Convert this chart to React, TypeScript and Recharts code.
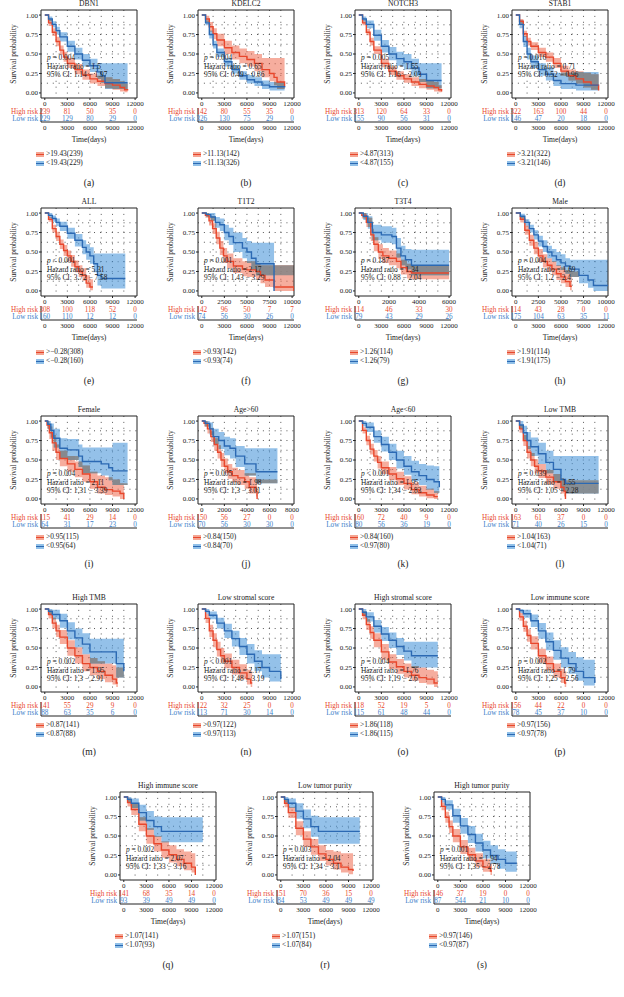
import React from "react";
import {
  Area,
  CartesianGrid,
  ComposedChart,
  LabelList,
  Line,
  ReferenceArea,
  XAxis,
  YAxis,
} from "recharts";

// [time(days), survival, lower CI, upper CI]
type Pt = [number, number, number, number];

const ticks12k = [0, 3000, 6000, 9000, 12000];
const ticks10k = [0, 2500, 5000, 7500, 10000];
const ticks8k = [0, 2000, 4000, 6000, 8000];
const ticks6k = [0, 2000, 4000, 6000];
const survTicks = [0, 0.25, 0.5, 0.75, 1];

// (a) DBN1
const dbn1High: Pt[] = [[0,1,1,1],[500,0.9,0.86,0.94],[1000,0.78,0.73,0.83],[1500,0.66,0.6,0.72],[2000,0.55,0.49,0.61],[2500,0.46,0.4,0.53],[3000,0.38,0.32,0.45],[4000,0.3,0.24,0.37],[5000,0.23,0.17,0.3],[6000,0.18,0.12,0.25],[7000,0.15,0.09,0.22],[8000,0.12,0.06,0.2],[9000,0.1,0.04,0.18],[10000,0.07,0.02,0.15],[10600,0.04,0.01,0.12],[11000,0.03,0,0.1]];
const dbn1Low: Pt[] = [[0,1,1,1],[500,0.95,0.92,0.98],[1000,0.88,0.84,0.92],[1500,0.8,0.75,0.85],[2000,0.72,0.66,0.78],[3000,0.6,0.53,0.67],[4000,0.5,0.43,0.58],[5000,0.42,0.34,0.5],[6000,0.35,0.27,0.44],[7000,0.27,0.18,0.38],[7500,0.22,0.13,0.38],[8000,0.13,0.05,0.38],[11000,0.13,0.05,0.38]];
const dbn1AtRisk = [[239, 81, 50, 35, 0], [229, 129, 80, 29, 0]];

// (b) KDELC2
const kdelc2High: Pt[] = [[0,1,1,1],[500,0.95,0.91,0.99],[1000,0.85,0.79,0.91],[1500,0.76,0.69,0.83],[2000,0.68,0.6,0.76],[3000,0.58,0.5,0.67],[4000,0.52,0.43,0.61],[5000,0.47,0.38,0.57],[6000,0.43,0.34,0.54],[7000,0.38,0.28,0.5],[8000,0.3,0.2,0.45],[9000,0.25,0.15,0.45],[9600,0.2,0.1,0.45],[10000,0.14,0.05,0.45],[11000,0.08,0.02,0.45]];
const kdelc2Low: Pt[] = [[0,1,1,1],[500,0.9,0.87,0.93],[1000,0.75,0.7,0.8],[1500,0.62,0.57,0.67],[2000,0.52,0.46,0.57],[3000,0.4,0.34,0.45],[4000,0.3,0.25,0.36],[5000,0.22,0.17,0.28],[6000,0.17,0.12,0.23],[7000,0.14,0.09,0.2],[8000,0.1,0.05,0.16],[9000,0.08,0.03,0.14],[11000,0.07,0.02,0.14]];
const kdelc2AtRisk = [[142, 80, 55, 35, 0], [326, 130, 75, 29, 0]];

// (c) NOTCH3
const notch3High: Pt[] = [[0,1,1,1],[500,0.9,0.87,0.93],[1000,0.78,0.74,0.82],[1500,0.66,0.61,0.71],[2000,0.55,0.5,0.6],[3000,0.38,0.33,0.44],[4000,0.28,0.23,0.34],[5000,0.22,0.17,0.28],[6000,0.18,0.13,0.24],[7000,0.14,0.09,0.2],[8000,0.11,0.06,0.18],[9000,0.09,0.04,0.16],[10000,0.07,0.02,0.14],[10600,0.04,0.01,0.1],[11000,0.02,0,0.08]];
const notch3Low: Pt[] = [[0,1,1,1],[500,0.95,0.92,0.98],[1000,0.88,0.83,0.93],[2000,0.74,0.67,0.81],[3000,0.6,0.52,0.68],[4000,0.5,0.42,0.59],[5000,0.44,0.35,0.53],[6000,0.4,0.3,0.5],[7000,0.32,0.22,0.44],[8000,0.24,0.14,0.38],[9000,0.16,0.06,0.38],[11000,0.16,0.06,0.38]];
const notch3AtRisk = [[313, 120, 64, 33, 0], [155, 90, 56, 31, 0]];

// (d) STAB1
const stab1High: Pt[] = [[0,1,1,1],[500,0.92,0.89,0.95],[1000,0.76,0.72,0.8],[1500,0.66,0.61,0.71],[2000,0.6,0.55,0.65],[3000,0.52,0.46,0.58],[4000,0.46,0.4,0.52],[5000,0.38,0.32,0.45],[6000,0.28,0.22,0.35],[7000,0.22,0.16,0.3],[8000,0.18,0.12,0.28],[9000,0.14,0.07,0.26],[10000,0.1,0.04,0.24],[11000,0.03,0,0.2]];
const stab1Low: Pt[] = [[0,1,1,1],[500,0.88,0.83,0.93],[1000,0.66,0.59,0.73],[1500,0.5,0.43,0.58],[2000,0.4,0.32,0.48],[3000,0.3,0.22,0.38],[4000,0.24,0.16,0.33],[5000,0.16,0.09,0.26],[6000,0.12,0.05,0.26],[8000,0.1,0.03,0.27],[11000,0.1,0.03,0.27]];
const stab1AtRisk = [[322, 163, 100, 44, 0], [146, 47, 20, 18, 0]];

// (e) ALL
const allHigh: Pt[] = [[0,1,1,1],[500,0.92,0.89,0.95],[1000,0.8,0.75,0.85],[1500,0.7,0.64,0.76],[2000,0.6,0.54,0.66],[2500,0.52,0.45,0.59],[3000,0.45,0.38,0.52],[3500,0.38,0.31,0.46],[4000,0.31,0.24,0.39],[4500,0.25,0.18,0.33],[5000,0.2,0.13,0.29],[5500,0.1,0.04,0.2],[6000,0.05,0.01,0.15],[6400,0.05,0.01,0.15]];
const allLow: Pt[] = [[0,1,1,1],[500,0.97,0.94,1],[1000,0.93,0.89,0.97],[1500,0.88,0.83,0.93],[2000,0.83,0.77,0.89],[3000,0.74,0.67,0.81],[4000,0.65,0.57,0.73],[5000,0.56,0.47,0.65],[5500,0.5,0.4,0.6],[6000,0.45,0.35,0.56],[6500,0.35,0.24,0.48],[7000,0.2,0.07,0.48],[7500,0.16,0.03,0.48],[10700,0.16,0.03,0.48]];
const allAtRisk = [[308, 100, 118, 52, 0], [160, 110, 12, 12, 0]];

// (f) T1T2
const t1t2High: Pt[] = [[0,1,1,1],[400,0.97,0.94,1],[800,0.9,0.84,0.96],[1200,0.8,0.73,0.87],[1600,0.68,0.6,0.76],[2000,0.55,0.46,0.64],[2400,0.45,0.36,0.55],[2800,0.38,0.29,0.48],[3500,0.32,0.23,0.42],[4500,0.28,0.19,0.38],[5000,0.27,0.18,0.38],[6000,0.25,0.15,0.36],[6500,0.2,0.1,0.33],[7000,0.14,0.05,0.33],[8000,0.05,0,0.33],[10200,0,0,0.33]];
const t1t2Low: Pt[] = [[0,1,1,1],[500,0.98,0.95,1],[1000,0.95,0.9,1],[1500,0.88,0.81,0.95],[2000,0.85,0.77,0.93],[2500,0.75,0.65,0.85],[3000,0.7,0.59,0.81],[3500,0.62,0.5,0.75],[4500,0.55,0.42,0.68],[5000,0.5,0.36,0.64],[5500,0.42,0.27,0.62],[6000,0.35,0.2,0.62],[8000,0,0.2,0.62]];
const t1t2AtRisk = [[142, 96, 50, 7, 7], [74, 56, 30, 26, 0]];

// (g) T3T4
const t3t4High: Pt[] = [[0,1,1,1],[200,0.97,0.93,1],[500,0.88,0.82,0.94],[800,0.72,0.64,0.8],[1000,0.6,0.51,0.69],[1300,0.5,0.41,0.6],[1600,0.45,0.36,0.55],[2000,0.42,0.33,0.52],[2500,0.38,0.29,0.48],[2800,0.3,0.21,0.4],[3200,0.25,0.16,0.35],[3500,0.23,0.15,0.33],[6000,0.23,0.15,0.33]];
const t3t4Low: Pt[] = [[0,1,1,1],[300,0.96,0.91,1],[600,0.88,0.8,0.96],[900,0.75,0.65,0.85],[1500,0.72,0.62,0.83],[2200,0.7,0.6,0.81],[2500,0.55,0.43,0.68],[2800,0.45,0.33,0.58],[3100,0.4,0.28,0.54],[3500,0.33,0.2,0.53],[6000,0.33,0.2,0.53]];
const t3t4AtRisk = [[114, 46, 33, 30], [79, 43, 29, 26]];

// (h) Male
const maleHigh: Pt[] = [[0,1,1,1],[500,0.92,0.88,0.96],[1000,0.78,0.72,0.84],[1500,0.65,0.58,0.72],[2000,0.55,0.47,0.63],[2500,0.45,0.37,0.54],[3000,0.38,0.3,0.47],[3500,0.33,0.25,0.42],[4000,0.28,0.2,0.38],[4500,0.22,0.14,0.33],[5000,0.18,0.1,0.3],[5500,0.12,0.05,0.27],[6000,0.06,0.01,0.25],[6200,0.06,0.01,0.25]];
const maleLow: Pt[] = [[0,1,1,1],[500,0.96,0.93,0.99],[1000,0.88,0.84,0.92],[1500,0.8,0.75,0.85],[2000,0.72,0.66,0.78],[2500,0.64,0.57,0.71],[3000,0.57,0.5,0.65],[3500,0.5,0.42,0.58],[4000,0.45,0.37,0.54],[4500,0.4,0.32,0.5],[5000,0.36,0.27,0.47],[5500,0.32,0.22,0.42],[6000,0.28,0.18,0.4],[7000,0.2,0.1,0.4],[8000,0.14,0.04,0.4],[8600,0.07,0,0.4],[10300,0.07,0,0.4]];
const maleAtRisk = [[114, 43, 28, 0, 0], [175, 104, 63, 35, 11]];

// (i) Female
const femaleHigh: Pt[] = [[0,1,1,1],[300,0.95,0.9,1],[600,0.85,0.77,0.93],[1000,0.72,0.62,0.82],[1500,0.6,0.5,0.7],[2000,0.52,0.42,0.62],[3000,0.45,0.35,0.55],[4000,0.38,0.28,0.48],[5000,0.32,0.22,0.43],[6000,0.22,0.13,0.35],[7000,0.15,0.07,0.3],[8000,0.12,0.05,0.28],[9000,0.1,0.03,0.25],[10000,0.07,0,0.2],[10500,0,0,0.2]];
const femaleLow: Pt[] = [[0,1,1,1],[400,0.96,0.9,1],[800,0.88,0.79,0.97],[1200,0.78,0.66,0.9],[2000,0.65,0.52,0.78],[3000,0.63,0.5,0.77],[4500,0.55,0.41,0.7],[5000,0.48,0.33,0.66],[7500,0.45,0.3,0.66],[8500,0.4,0.24,0.66],[9000,0.36,0.18,0.72],[11000,0.36,0.18,0.72]];
const femaleAtRisk = [[115, 41, 29, 14, 0], [64, 31, 17, 23, 0]];

// (j) Age>60
const ageOldHigh: Pt[] = [[0,1,1,1],[200,0.97,0.93,1],[500,0.9,0.84,0.96],[800,0.8,0.73,0.87],[1100,0.7,0.62,0.78],[1400,0.6,0.52,0.69],[1700,0.5,0.41,0.59],[2000,0.42,0.33,0.52],[2300,0.35,0.26,0.45],[2700,0.3,0.21,0.4],[3200,0.27,0.18,0.37],[3800,0.22,0.13,0.33],[4200,0.15,0.07,0.28],[4800,0.1,0.03,0.25],[4900,0,0,0.25]];
const ageOldLow: Pt[] = [[0,1,1,1],[300,0.97,0.93,1],[700,0.9,0.82,0.98],[1000,0.8,0.7,0.9],[1500,0.75,0.64,0.86],[2000,0.68,0.56,0.8],[2500,0.65,0.52,0.78],[3000,0.55,0.41,0.68],[3800,0.45,0.3,0.65],[4800,0.35,0.2,0.65],[6700,0.35,0.2,0.65]];
const ageOldAtRisk = [[150, 56, 27, 0, 0], [70, 56, 30, 30, 0]];

// (k) Age<60
const ageYoungHigh: Pt[] = [[0,1,1,1],[500,0.88,0.84,0.92],[1000,0.75,0.69,0.81],[1500,0.64,0.57,0.71],[2000,0.55,0.48,0.63],[2500,0.47,0.39,0.55],[3000,0.4,0.32,0.48],[4000,0.32,0.24,0.41],[5000,0.26,0.18,0.35],[6000,0.2,0.12,0.29],[7000,0.12,0.06,0.21],[8000,0.08,0.03,0.17],[9000,0.05,0.01,0.13],[10000,0.03,0,0.1],[10500,0.03,0,0.1]];
const ageYoungLow: Pt[] = [[0,1,1,1],[500,0.97,0.93,1],[1000,0.92,0.86,0.98],[2000,0.8,0.72,0.88],[3000,0.7,0.61,0.8],[4000,0.6,0.5,0.71],[5000,0.5,0.39,0.62],[6000,0.42,0.31,0.55],[7000,0.35,0.23,0.49],[8000,0.3,0.18,0.45],[9000,0.25,0.12,0.43],[10000,0.22,0.08,0.42],[10700,0.15,0.04,0.42]];
const ageYoungAtRisk = [[160, 72, 40, 9, 0], [80, 56, 36, 19, 0]];

// (l) Low TMB
const lowTmbHigh: Pt[] = [[0,1,1,1],[500,0.9,0.85,0.95],[1000,0.75,0.68,0.82],[1500,0.6,0.52,0.68],[2000,0.5,0.42,0.59],[2500,0.42,0.33,0.51],[3000,0.36,0.27,0.45],[4000,0.28,0.19,0.37],[5000,0.22,0.13,0.32],[6000,0.15,0.07,0.27],[6400,0.1,0.03,0.24],[6600,0,0,0.24]];
const lowTmbLow: Pt[] = [[0,1,1,1],[500,0.95,0.9,1],[1000,0.85,0.76,0.94],[1500,0.75,0.64,0.86],[2000,0.67,0.55,0.79],[3000,0.58,0.45,0.72],[4000,0.47,0.33,0.62],[5000,0.38,0.23,0.55],[6000,0.25,0.1,0.55],[6600,0.2,0.07,0.55],[11000,0.2,0.07,0.55]];
const lowTmbAtRisk = [[163, 61, 37, 0, 0], [71, 40, 26, 15, 0]];

// (m) High TMB
const highTmbHigh: Pt[] = [[0,1,1,1],[500,0.93,0.88,0.98],[1000,0.82,0.75,0.89],[1500,0.72,0.64,0.8],[2000,0.64,0.55,0.73],[3000,0.5,0.4,0.6],[4000,0.4,0.3,0.51],[5000,0.3,0.2,0.42],[6000,0.25,0.15,0.37],[7000,0.2,0.1,0.33],[8000,0.15,0.06,0.3],[9000,0.1,0.03,0.28],[9500,0.05,0,0.25],[9700,0.05,0,0.25]];
const highTmbLow: Pt[] = [[0,1,1,1],[500,0.97,0.93,1],[1000,0.93,0.87,0.99],[2000,0.85,0.76,0.94],[3000,0.72,0.61,0.83],[4000,0.63,0.51,0.75],[5000,0.55,0.42,0.69],[6000,0.45,0.3,0.62],[9000,0.45,0.3,0.62],[9500,0.3,0.12,0.62],[10500,0.2,0.05,0.62]];
const highTmbAtRisk = [[141, 55, 29, 9, 0], [88, 63, 35, 6, 0]];

// (n) Low stromal score
const lowStromalHigh: Pt[] = [[0,1,1,1],[500,0.88,0.82,0.94],[1000,0.72,0.64,0.8],[1500,0.6,0.51,0.69],[2000,0.48,0.39,0.58],[2500,0.4,0.31,0.5],[3000,0.33,0.24,0.43],[4000,0.25,0.16,0.35],[5000,0.18,0.1,0.29],[6000,0.1,0.03,0.22],[6500,0.05,0,0.2],[6700,0.05,0,0.2]];
const lowStromalLow: Pt[] = [[0,1,1,1],[500,0.97,0.94,1],[1000,0.92,0.87,0.97],[2000,0.82,0.75,0.89],[3000,0.72,0.63,0.81],[4000,0.62,0.52,0.72],[5000,0.52,0.41,0.63],[6000,0.42,0.3,0.55],[7000,0.33,0.2,0.47],[8000,0.25,0.12,0.42],[9000,0.2,0.07,0.42],[10500,0.1,0.01,0.42]];
const lowStromalAtRisk = [[122, 32, 25, 0, 0], [113, 71, 30, 14, 0]];

// (o) High stromal score
const highStromalHigh: Pt[] = [[0,1,1,1],[500,0.92,0.87,0.97],[1000,0.8,0.73,0.87],[1500,0.7,0.62,0.78],[2000,0.6,0.51,0.69],[3000,0.45,0.35,0.55],[4000,0.32,0.23,0.42],[5000,0.26,0.17,0.36],[6000,0.2,0.12,0.3],[7000,0.15,0.08,0.27],[8000,0.12,0.05,0.25],[9000,0.1,0.03,0.22],[10000,0.05,0,0.2],[10500,0.05,0,0.2]];
const highStromalLow: Pt[] = [[0,1,1,1],[500,0.96,0.92,1],[1000,0.9,0.84,0.96],[2000,0.78,0.7,0.86],[3000,0.68,0.59,0.77],[4000,0.6,0.5,0.7],[5000,0.52,0.41,0.63],[6000,0.46,0.34,0.58],[7000,0.4,0.25,0.58],[10500,0.4,0.25,0.58]];
const highStromalAtRisk = [[118, 52, 19, 5, 0], [115, 61, 48, 44, 0]];

// (p) Low immune score
const lowImmuneHigh: Pt[] = [[0,1,1,1],[500,0.9,0.85,0.95],[1000,0.78,0.71,0.85],[1500,0.66,0.58,0.74],[2000,0.56,0.48,0.65],[3000,0.4,0.31,0.49],[4000,0.3,0.21,0.39],[5000,0.2,0.12,0.3],[6000,0.12,0.05,0.23],[6500,0.05,0,0.2],[6700,0.05,0,0.2]];
const lowImmuneLow: Pt[] = [[0,1,1,1],[500,0.98,0.95,1],[1000,0.94,0.89,0.99],[2000,0.85,0.77,0.93],[3000,0.72,0.62,0.82],[4000,0.58,0.47,0.7],[5000,0.47,0.35,0.6],[6000,0.37,0.25,0.51],[7000,0.3,0.17,0.45],[8000,0.2,0.08,0.38],[9000,0.12,0.02,0.35],[10500,0.05,0,0.35]];
const lowImmuneAtRisk = [[156, 44, 22, 0, 0], [78, 45, 37, 10, 0]];

// (q) High immune score
const highImmuneHigh: Pt[] = [[0,1,1,1],[500,0.93,0.88,0.98],[1000,0.84,0.77,0.91],[2000,0.65,0.56,0.74],[3000,0.5,0.4,0.6],[4000,0.4,0.3,0.5],[5000,0.32,0.22,0.43],[6000,0.26,0.16,0.38],[7000,0.2,0.11,0.33],[8000,0.15,0.06,0.3],[9000,0.1,0.03,0.28],[9500,0,0,0.28]];
const highImmuneLow: Pt[] = [[0,1,1,1],[500,0.97,0.93,1],[1000,0.92,0.86,0.98],[2000,0.8,0.7,0.9],[3000,0.7,0.58,0.82],[4000,0.62,0.49,0.75],[5000,0.56,0.42,0.74],[10500,0.56,0.42,0.74]];
const highImmuneAtRisk = [[141, 68, 35, 14, 0], [93, 39, 49, 49, 0]];

// (r) Low tumor purity
const lowPurityHigh: Pt[] = [[0,1,1,1],[500,0.92,0.87,0.97],[1000,0.8,0.73,0.87],[2000,0.6,0.51,0.69],[3000,0.46,0.36,0.56],[4000,0.36,0.26,0.46],[5000,0.27,0.18,0.38],[6000,0.2,0.12,0.32],[7000,0.15,0.07,0.3],[8000,0.1,0.03,0.28],[9000,0.07,0.01,0.28],[9600,0.05,0,0.28]];
const lowPurityLow: Pt[] = [[0,1,1,1],[500,0.97,0.93,1],[1000,0.92,0.86,0.98],[2000,0.82,0.72,0.92],[3000,0.72,0.6,0.84],[4000,0.62,0.49,0.76],[5000,0.56,0.4,0.74],[10500,0.56,0.4,0.74]];
const lowPurityAtRisk = [[151, 70, 36, 15, 0], [84, 53, 49, 49, 49]];

// (s) High tumor purity
const highPurityHigh: Pt[] = [[0,1,1,1],[500,0.88,0.83,0.93],[1000,0.74,0.67,0.81],[1500,0.62,0.54,0.7],[2000,0.5,0.42,0.59],[3000,0.36,0.27,0.45],[4000,0.26,0.18,0.35],[5000,0.18,0.1,0.28],[6000,0.1,0.04,0.2],[7000,0.05,0,0.15],[7200,0.05,0,0.15]];
const highPurityLow: Pt[] = [[0,1,1,1],[500,0.97,0.93,1],[1000,0.9,0.84,0.96],[2000,0.76,0.67,0.85],[3000,0.63,0.53,0.73],[4000,0.52,0.41,0.63],[5000,0.41,0.3,0.53],[6000,0.32,0.21,0.44],[7000,0.25,0.14,0.38],[8000,0.2,0.08,0.33],[9000,0.15,0.04,0.3],[10500,0.15,0.04,0.3]];
const highPurityAtRisk = [[146, 37, 19, 0, 0], [87, 544, 21, 10, 0]];

type PanelCfg = {
  tag: string;
  title: string;
  ticks: number[];
  high: Pt[];
  low: Pt[];
  atRisk: number[][];
  p: string;
  hr: string;
  ci: string;
  legend: [string, string];
};

const panels: PanelCfg[] = [
  { tag: "(a)", title: "DBN1", ticks: ticks12k, high: dbn1High, low: dbn1Low, atRisk: dbn1AtRisk, p: "= 0.004", hr: "1.5", ci: "1.14 − 1.97", legend: [">19.43(239)", "<19.43(229)"] },
  { tag: "(b)", title: "KDELC2", ticks: ticks12k, high: kdelc2High, low: kdelc2Low, atRisk: kdelc2AtRisk, p: "= 0.004", hr: "0.65", ci: "0.49 − 0.86", legend: [">11.13(142)", "<11.13(326)"] },
  { tag: "(c)", title: "NOTCH3", ticks: ticks12k, high: notch3High, low: notch3Low, atRisk: notch3AtRisk, p: "= 0.005", hr: "1.55", ci: "1.16 − 2.03", legend: [">4.87(313)", "<4.87(155)"] },
  { tag: "(d)", title: "STAB1", ticks: ticks12k, high: stab1High, low: stab1Low, atRisk: stab1AtRisk, p: "= 0.016", hr: "0.71", ci: "0.52 − 0.96", legend: [">3.21(322)", "<3.21(146)"] },
  { tag: "(e)", title: "ALL", ticks: ticks12k, high: allHigh, low: allLow, atRisk: allAtRisk, p: "< 0.001", hr: "5.31", ci: "3.72 − 7.58", legend: [">−0.28(308)", "<−0.28(160)"] },
  { tag: "(f)", title: "T1T2", ticks: ticks10k, high: t1t2High, low: t1t2Low, atRisk: t1t2AtRisk, p: "= 0.001", hr: "2.17", ci: "1.43 − 3.29", legend: [">0.93(142)", "<0.93(74)"] },
  { tag: "(g)", title: "T3T4", ticks: ticks6k, high: t3t4High, low: t3t4Low, atRisk: t3t4AtRisk, p: "= 0.187", hr: "1.34", ci: "0.88 − 2.04", legend: [">1.26(114)", "<1.26(79)"] },
  { tag: "(h)", title: "Male", ticks: ticks10k, high: maleHigh, low: maleLow, atRisk: maleAtRisk, p: "= 0.004", hr: "1.69", ci: "1.2 − 2.4", legend: [">1.91(114)", "<1.91(175)"] },
  { tag: "(i)", title: "Female", ticks: ticks12k, high: femaleHigh, low: femaleLow, atRisk: femaleAtRisk, p: "= 0.004", hr: "2.11", ci: "1.31 − 3.39", legend: [">0.95(115)", "<0.95(64)"] },
  { tag: "(j)", title: "Age>60", ticks: ticks8k, high: ageOldHigh, low: ageOldLow, atRisk: ageOldAtRisk, p: "= 0.005", hr: "1.98", ci: "1.3 − 3.01", legend: [">0.84(150)", "<0.84(70)"] },
  { tag: "(k)", title: "Age<60", ticks: ticks12k, high: ageYoungHigh, low: ageYoungLow, atRisk: ageYoungAtRisk, p: "< 0.001", hr: "1.95", ci: "1.34 − 2.83", legend: [">0.84(160)", "<0.97(80)"] },
  { tag: "(l)", title: "Low TMB", ticks: ticks12k, high: lowTmbHigh, low: lowTmbLow, atRisk: lowTmbAtRisk, p: "= 0.039", hr: "1.55", ci: "1.05 − 2.28", legend: [">1.04(163)", "<1.04(71)"] },
  { tag: "(m)", title: "High TMB", ticks: ticks12k, high: highTmbHigh, low: highTmbLow, atRisk: highTmbAtRisk, p: "= 0.002", hr: "1.95", ci: "1.3 − 2.91", legend: [">0.87(141)", "<0.87(88)"] },
  { tag: "(n)", title: "Low stromal score", ticks: ticks12k, high: lowStromalHigh, low: lowStromalLow, atRisk: lowStromalAtRisk, p: "< 0.001", hr: "2.17", ci: "1.48 − 3.19", legend: [">0.97(122)", "<0.97(113)"] },
  { tag: "(o)", title: "High stromal score", ticks: ticks12k, high: highStromalHigh, low: highStromalLow, atRisk: highStromalAtRisk, p: "= 0.004", hr: "1.76", ci: "1.19 − 2.6", legend: [">1.86(118)", "<1.86(115)"] },
  { tag: "(p)", title: "Low immune score", ticks: ticks12k, high: lowImmuneHigh, low: lowImmuneLow, atRisk: lowImmuneAtRisk, p: "= 0.002", hr: "1.79", ci: "1.25 − 2.56", legend: [">0.97(156)", "<0.97(78)"] },
  { tag: "(q)", title: "High immune score", ticks: ticks12k, high: highImmuneHigh, low: highImmuneLow, atRisk: highImmuneAtRisk, p: "= 0.002", hr: "2.07", ci: "1.33 − 3.16", legend: [">1.07(141)", "<1.07(93)"] },
  { tag: "(r)", title: "Low tumor purity", ticks: ticks12k, high: lowPurityHigh, low: lowPurityLow, atRisk: lowPurityAtRisk, p: "= 0.003", hr: "2.04", ci: "1.34 − 3.1", legend: [">1.07(151)", "<1.07(84)"] },
  { tag: "(s)", title: "High tumor purity", ticks: ticks12k, high: highPurityHigh, low: highPurityLow, atRisk: highPurityAtRisk, p: "= 0.001", hr: "1.94", ci: "1.35 − 2.78", legend: [">0.97(146)", "<0.97(87)"] },
];

const RED = "#e8472c";
const BLUE = "#2b69b3";
const BLUE_TEXT = "#3d80c9";
const RED_BAND = "#ef6a4e";
const BLUE_BAND = "#4d98db";
const GREY_BAND = "#858585";
const INK = "#222";
const FONT = "'Liberation Serif', 'DejaVu Serif', serif";

// rows 3 and 4 carry no second time axis under the risk table
const ROW_TOP = [0, 198, 406, 594, 782];
const ROW_HAS_TIME = [true, true, false, false, true];
const COL_LEFT = [0, 157, 314, 471];
const LAST_ROW_LEFT = [79, 236, 393];
const STAT_OFFSET = [58, 63, 68, 68, 68];

const W = 153; // panel chart width
const PL = 41; // plot left inside panel
const PR = 16; // right margin
const PW = W - PL - PR;
const Y_DOM: [number, number] = [-0.065, 1.065];
const gridY = [0.125, 0.25, 0.375, 0.5, 0.625, 0.75, 0.875];
const BOTTOM_DOM: [number, number] = [-500, 12250];
const bottomAxisRows = ticks12k.map((t) => ({ t }));

// value of a KM step curve at time t (last observed point), null after it ends
function stepAt(curve: Pt[], t: number): Pt | null {
  if (t > curve[curve.length - 1][0]) return null;
  let cur = curve[0];
  for (const p of curve) {
    if (p[0] <= t) cur = p;
    else break;
  }
  return cur;
}

function mergeCurves(high: Pt[], low: Pt[]) {
  const times = Array.from(new Set([...high, ...low].map((p) => p[0]))).sort((a, b) => a - b);
  let prevOv: number[] | null = null;
  return times.map((t) => {
    const h = stepAt(high, t);
    const l = stepAt(low, t);
    let ov: number[] | null = null;
    if (h && l) {
      const lo = Math.max(h[2], l[2]);
      const hi = Math.min(h[3], l[3]);
      if (hi > lo) ov = [lo, hi];
    }
    const row = {
      t,
      h: h ? h[1] : null,
      l: l ? l[1] : null,
      hb: h ? [h[2], h[3]] : null,
      lb: l ? [l[2], l[3]] : null,
      ov: ov ?? prevOv,
    };
    prevOv = ov;
    return row;
  });
}

const RiskTick = (props: any) => {
  const { x, y, payload } = props;
  const high = payload.value > 1;
  return (
    <text x={x} y={y} dy={2.6} textAnchor="end" fontSize={7.2} fontFamily={FONT} fill={high ? RED : BLUE_TEXT}>
      {high ? "High risk" : "Low risk"}
    </text>
  );
};

const SurvLabel = (props: any) => {
  const vb = props.viewBox || { x: 0, y: 10, height: 88 };
  const cx = vb.x + 13;
  const cy = vb.y + vb.height / 2;
  return (
    <text x={cx} y={cy} transform={`rotate(-90 ${cx} ${cy})`} textAnchor="middle" dominantBaseline="central" fontSize={7.4} fontFamily={FONT} fill={INK}>
      Survival probability
    </text>
  );
};

function Panel({ cfg, left, top, statTop, hasTime }: { cfg: PanelCfg; left: number; top: number; statTop: number; hasTime: boolean }) {
  const rows = mergeCurves(cfg.high, cfg.low);
  const xMax = cfg.ticks[cfg.ticks.length - 1];
  const xDom: [number, number] = [-xMax * 0.042, xMax * 1.021];
  const gridX = [1, 2, 3, 4, 5, 6, 7].map((k) => (xMax * k) / 8);
  const riskRows = cfg.ticks.map((t, i) => ({ t, high: cfg.atRisk[0][i], low: cfg.atRisk[1][i] }));
  const tickStyle = { fontSize: 7, fill: INK, fontFamily: FONT };
  const text: React.CSSProperties = { position: "absolute", fontSize: 7.4, lineHeight: "8px", whiteSpace: "nowrap", color: INK };
  const legendTop = hasTime ? 150 : 127;
  const tagTop = hasTime ? 178 : 153;

  return (
    <div style={{ position: "absolute", left, top, width: W, height: tagTop + 12, fontFamily: FONT }}>
      <div style={{ ...text, left: PL, width: PW, top: 0, textAlign: "center", fontSize: 7.6 }}>{cfg.title}</div>

      <div style={{ position: "absolute", left: 0, top: 0 }}>
        <ComposedChart width={W} height={110} data={rows} margin={{ top: 10, right: PR, bottom: 0, left: 0 }}>
          <CartesianGrid horizontalValues={gridY} verticalValues={gridX} stroke="#333" strokeWidth={0.9} strokeDasharray="0.9 5" />
          <Area dataKey="hb" type="stepAfter" fill={RED_BAND} fillOpacity={0.55} stroke="none" isAnimationActive={false} />
          <Area dataKey="lb" type="stepAfter" fill={BLUE_BAND} fillOpacity={0.6} stroke="none" isAnimationActive={false} />
          <Area dataKey="ov" type="stepAfter" fill={GREY_BAND} fillOpacity={0.85} stroke="none" isAnimationActive={false} />
          <Line dataKey="h" type="stepAfter" stroke={RED} strokeWidth={1.4} dot={false} isAnimationActive={false} />
          <Line dataKey="l" type="stepAfter" stroke={BLUE} strokeWidth={1.4} dot={false} isAnimationActive={false} />
          <ReferenceArea x1={xDom[0]} x2={xDom[1]} y1={Y_DOM[0]} y2={Y_DOM[1]} fill="none" stroke={INK} strokeWidth={1} ifOverflow="visible" />
          <XAxis type="number" dataKey="t" domain={xDom} ticks={cfg.ticks} allowDataOverflow interval={0} tick={tickStyle} tickSize={2} tickMargin={1} axisLine={false} tickLine={{ stroke: INK }} height={12} />
          <YAxis type="number" domain={Y_DOM} ticks={survTicks} allowDataOverflow interval={0} tickFormatter={(v: number) => v.toFixed(2)} tick={tickStyle} tickSize={2} tickMargin={1} axisLine={false} tickLine={{ stroke: INK }} width={PL} label={<SurvLabel />} />
        </ComposedChart>
      </div>

      <div style={{ ...text, left: PL + 6, top: statTop - 4 }}>
        <i>p</i> {cfg.p}
      </div>
      <div style={{ ...text, left: PL + 6, top: statTop + 5 }}>Hazard ratio = {cfg.hr}</div>
      <div style={{ ...text, left: PL + 6, top: statTop + 13 }}>95% CI: {cfg.ci}</div>

      <div style={{ position: "absolute", left: 0, top: 106 }}>
        <ComposedChart width={W} height={hasTime ? 44 : 18} data={riskRows} margin={{ top: 2, right: PR, bottom: 0, left: 0 }}>
          <XAxis type="number" dataKey="t" domain={xDom} hide height={0} />
          {hasTime ? (
            <XAxis xAxisId="b" type="number" dataKey="t" domain={BOTTOM_DOM} ticks={ticks12k} interval={0} tick={tickStyle} tickSize={0} tickMargin={3} axisLine={{ stroke: INK }} tickLine={false} height={28} label={{ value: "Time(days)", position: "insideBottom", offset: 8, fontSize: 7.6, fill: INK, fontFamily: FONT }} />
          ) : (
            <XAxis xAxisId="b" type="number" dataKey="t" domain={BOTTOM_DOM} ticks={ticks12k} tick={false} axisLine={{ stroke: INK }} tickLine={false} height={2} />
          )}
          <YAxis type="number" domain={[0, 2]} ticks={[0.5, 1.45]} interval={0} width={PL} tick={<RiskTick />} tickSize={0} tickMargin={3} axisLine={{ stroke: INK }} tickLine={false} />
          <Line xAxisId="b" data={bottomAxisRows} dataKey={() => 1} stroke="none" dot={false} isAnimationActive={false} />
          <Line dataKey={() => 1.45} stroke="none" dot={false} isAnimationActive={false}>
            <LabelList dataKey="high" position="center" fontSize={7.2} fill={RED} fontFamily={FONT} />
          </Line>
          <Line dataKey={() => 0.5} stroke="none" dot={false} isAnimationActive={false}>
            <LabelList dataKey="low" position="center" fontSize={7.2} fill={BLUE_TEXT} fontFamily={FONT} />
          </Line>
        </ComposedChart>
      </div>

      {cfg.legend.map((lab, i) => (
        <div key={lab} style={{ ...text, left: PL - 5, top: legendTop + i * 9, display: "flex", alignItems: "center" }}>
          <span style={{ position: "relative", width: 8, height: 5, marginRight: 2, background: i === 0 ? "#f4a592" : "#91c0e8", display: "inline-block" }}>
            <span style={{ position: "absolute", left: 0, right: 0, top: 2, height: 1.4, background: i === 0 ? RED : BLUE }} />
          </span>
          {lab}
        </div>
      ))}

      <div style={{ ...text, left: PL, width: PW, top: tagTop, textAlign: "center", fontSize: 9.5, lineHeight: "11px" }}>{cfg.tag}</div>
    </div>
  );
}

export default function App() {
  return (
    <div style={{ position: "absolute", left: 0, top: 0, width: 624, height: 997, background: "#fff", overflow: "hidden" }}>
      {panels.map((cfg, i) => {
        const row = Math.floor(i / 4);
        const col = i % 4;
        const left = row === 4 ? LAST_ROW_LEFT[col] : COL_LEFT[col];
        return <Panel key={cfg.tag} cfg={cfg} left={left} top={ROW_TOP[row]} statTop={STAT_OFFSET[row]} hasTime={ROW_HAS_TIME[row]} />;
      })}
    </div>
  );
}
